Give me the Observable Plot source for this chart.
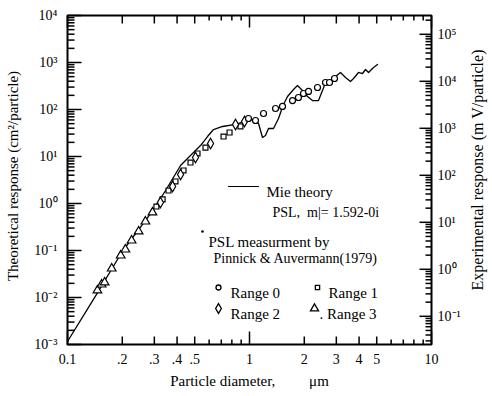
<!DOCTYPE html>
<html><head><meta charset="utf-8">
<script src="https://cdn.jsdelivr.net/npm/d3@7"></script>
<script src="https://cdn.jsdelivr.net/npm/@observablehq/plot@0.6"></script>
<style>body{margin:0;background:#fff;overflow:hidden;}</style>
</head><body><div id="chart"></div>
<script>
// Mie theory curve (PSL, m = 1.592-0i)
const mieDiameter = [0.100,0.143,0.200,0.286,0.346,0.418,0.474,0.538,0.588,0.634,0.711,0.838,0.975,1.052,1.121,1.179,1.224,1.272,1.355,1.443,1.537,1.618,1.745,1.835,1.955,2.083,2.219,2.394,2.518,2.616,2.787,2.969,3.162,3.370,3.588,3.728,3.971,4.178,4.340,4.507,4.801,5.050];
const mieResponse = [0.00116,0.0110,0.0952,0.612,1.89,6.44,10.5,17.1,26.6,37.5,43.5,48.0,58.3,61.3,50.4,25.4,28.0,39.4,39.4,64.4,128,189,266,324,254,189,155,155,254,375,414,504,613,480,394,457,613,583,710,613,783,907];

// PSL measurements (Pinnick & Auvermann 1979), theoretical-axis units
const range0Diameter = [0.987,1.079,1.194,1.390,1.518,1.723,1.858,1.980,2.110,2.364,2.616,2.752,2.931];
const range0Response = [64.4,58.3,82.2,105,116,155,180,219,242,294,375,375,457];
const range1Diameter = [0.308,0.333,0.359,0.392,0.434,0.474,0.518,0.573,0.720,0.777,0.892];
const range1Response = [0.863,1.22,1.89,2.94,5.04,7.45,11.6,15.5,26.6,32.4,43.5];
const range2Diameter = [0.324,0.378,0.418,0.505,0.611,0.838,0.939];
const range2Response = [1.05,2.30,4.14,9.52,18.9,48.0,55.6];
const range3Diameter = [0.146,0.154,0.160,0.175,0.196,0.208,0.225,0.246,0.268,0.293];
const range3Response = [0.0141,0.0189,0.0209,0.0414,0.0783,0.105,0.163,0.254,0.414,0.644];

// axes
const xDomain = [0.1, 10];
const yDomain = [1e-3, 1e4];
const xTickValues = [0.1,0.2,0.3,0.4,0.5,1,2,3,4,5,10];
const xTickLabels = ["0.1",".2",".3",".4",".5","1","2","3","4","5","10"];
const leftExponents = [-3,-2,-1,0,1,2,3,4];
const rightExponents = [-1,0,1,2,3,4,5];
const rightOffsetDecades = 1.4; // experimental (mV) = theoretical (cm²) × 10^1.4

const supMap = {"-":"⁻","0":"⁰","1":"¹","2":"²","3":"³","4":"⁴","5":"⁵","6":"⁶","7":"⁷","8":"⁸","9":"⁹"};
const pow10 = e => "10" + String(e).split("").map(c => supMap[c]).join("");

const zip = (xs, ys) => xs.map((d, i) => ({d, v: ys[i]}));
const mie = zip(mieDiameter, mieResponse);
const r0 = zip(range0Diameter, range0Response);
const r1 = zip(range1Diameter, range1Response);
const r2 = zip(range2Diameter, range2Response);
const r3 = zip(range3Diameter, range3Response);
const frameCorners = zip([xDomain[0], xDomain[1], xDomain[1], xDomain[0], xDomain[0]], [yDomain[0], yDomain[0], yDomain[1], yDomain[1], yDomain[0]]);

const xMajor = [0.1, 1, 10];
const xMid = [0.2, 0.3, 0.4, 0.5, 2, 3, 4, 5];
const xMinor = [6,7,8,9].flatMap(m => [m*0.1, m]);
const yMajor = leftExponents.map(e => 10 ** e);
const yMinor = leftExponents.slice(0, -1).flatMap(e => [2,3,4,5,6,7,8,9].map(m => m * 10 ** e));
const rMajor = rightExponents.map(e => 10 ** (e - rightOffsetDecades)).filter(v => v >= 1e-3 && v <= 1e4);
const rMinor = [-2, ...rightExponents].flatMap(e => [2,3,4,5,6,7,8,9].map(m => m * 10 ** (e - rightOffsetDecades))).filter(v => v >= 1e-3 && v <= 1e4);

const font = "Liberation Serif";
const fs = 14;
// plot is 364 px wide for 2 decades, 329 px tall for 7 decades
const pxX = L => 10 ** (L / 182);
const pxY = L => 10 ** (L / 47);

const tickStyle = {stroke: "black", strokeWidth: 1.5};
const bottomTicks = (vals, L) => Plot.link(vals, {x1: d => d, x2: d => d, y1: () => yDomain[0], y2: () => yDomain[0] * pxY(L), ...tickStyle});
const topTicks = (vals, L) => Plot.link(vals, {x1: d => d, x2: d => d, y1: () => yDomain[1], y2: () => yDomain[1] / pxY(L), ...tickStyle});
const leftTicks = (vals, L) => Plot.link(vals, {y1: d => d, y2: d => d, x1: () => xDomain[0], x2: () => xDomain[0] * pxX(L), ...tickStyle});
const rightTicks = (vals, L) => Plot.link(vals, {y1: d => d, y2: d => d, x1: () => xDomain[1], x2: () => xDomain[1] / pxX(L), ...tickStyle});

const lineShape = {draw(ctx, l) { ctx.moveTo(0, 0); ctx.lineTo(0, -l); }};
const T = (s, dx, dy, extra = {}) => Plot.text([s], {frameAnchor: "top-left", dx, dy, textAnchor: "start", fontSize: fs, fontFamily: font, fill: "black", ...extra});
const S = (symbol, dx, dy, r) => Plot.dot([0], {frameAnchor: "top-left", dx, dy, symbol, r, stroke: "black", fill: "white", strokeWidth: 1.3});

const chart = Plot.plot({
  width: 492,
  height: 396,
  marginLeft: 67,
  marginRight: 61,
  marginTop: 15,
  marginBottom: 52,
  x: {type: "log", domain: xDomain, axis: null},
  y: {type: "log", domain: yDomain, axis: null},
  marks: [
    // frame and inward ticks
    Plot.line(frameCorners, {x: "d", y: "v", stroke: "black", strokeWidth: 2, strokeLinejoin: "miter"}),
    bottomTicks(xMajor, 13), bottomTicks(xMid, 8), bottomTicks(xMinor, 5),
    topTicks(xMajor, 12), topTicks(xMid, 8), topTicks(xMinor, 5),
    leftTicks(yMajor, 14), leftTicks(yMinor, 7),
    rightTicks(rMajor, 12), rightTicks(rMinor, 6),
    // tick labels
    Plot.text(xTickValues, {x: d => d, y: () => yDomain[0], text: (d, i) => xTickLabels[i], dy: 15, fontSize: fs, fontFamily: font, fill: "black"}),
    Plot.text(leftExponents, {x: () => xDomain[0], y: e => 10 ** e, text: e => pow10(e), dx: -10, textAnchor: "end", fontSize: fs, fontFamily: font, fill: "black"}),
    Plot.text(rightExponents, {x: () => xDomain[1], y: e => 10 ** (e - rightOffsetDecades), text: e => pow10(e), dx: 6, textAnchor: "start", fontSize: fs, fontFamily: font, fill: "black"}),
    // axis titles
    Plot.text(["Theoretical response (cm²/particle)"], {frameAnchor: "left", textAnchor: "middle", rotate: -90, dx: -54, dy: -4, fontSize: 15, fontFamily: font, fill: "black"}),
    Plot.text(["Experimental response (m V/particle)"], {frameAnchor: "right", textAnchor: "middle", rotate: -90, dx: 46, dy: -10, fontSize: 16, fontFamily: font, fill: "black"}),
    Plot.text(["Particle diameter,         μm"], {frameAnchor: "bottom", textAnchor: "middle", dy: 41, fontSize: 15, fontFamily: font, fill: "black"}),
    // data
    Plot.line(mie, {x: "d", y: "v", stroke: "black", strokeWidth: 1.3}),
    Plot.dot(r3, {x: "d", y: "v", symbol: "triangle", r: 3.2, stroke: "black", fill: "white", strokeWidth: 1.2}),
    Plot.dot(r1, {x: "d", y: "v", symbol: "square", r: 2.8, stroke: "black", fill: "white", strokeWidth: 1.2}),
    Plot.dot(r2, {x: "d", y: "v", symbol: "diamond", r: 3.2, stroke: "black", fill: "white", strokeWidth: 1.2}),
    Plot.dot(r0, {x: "d", y: "v", symbol: "circle", r: 3, stroke: "black", fill: "white", strokeWidth: 1.2}),
    // legend
    Plot.vector([0], {frameAnchor: "top-left", dx: 161, dy: 171, length: 30, rotate: 90, anchor: "start", shape: lineShape, stroke: "black", strokeWidth: 1.2}),
    T("Mie theory", 199, 171, {fontSize: 15}),
    T("PSL,  m|= 1.592-0i", 205, 192),
    Plot.dot([0], {frameAnchor: "top-left", dx: 135, dy: 216, r: 1.3, fill: "black"}),
    T("PSL measurment by", 141, 221, {fontSize: 15}),
    T("Pinnick & Auvermann(1979)", 146, 238),
    S("circle", 151, 272, 2.5), T("Range 0", 163, 272, {fontSize: 15}),
    S("square", 250, 272, 2.4), T("Range 1", 261, 272, {fontSize: 15}),
    S("diamond", 151, 293, 3), T("Range 2", 163, 293, {fontSize: 15}),
    S("triangle", 247, 293, 3), T(". Range 3", 252, 293, {fontSize: 15})
  ]
});
document.getElementById("chart").appendChild(chart);
</script>
</body></html>
